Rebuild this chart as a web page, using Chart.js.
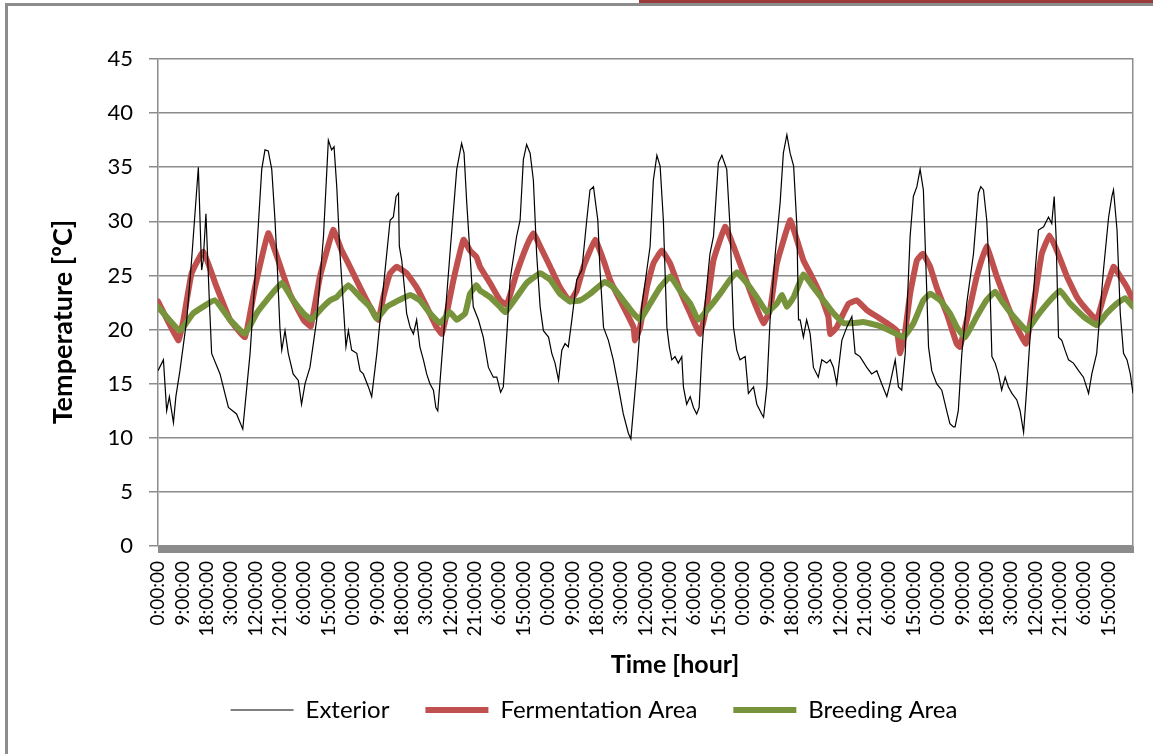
<!DOCTYPE html>
<html>
<head>
<meta charset="utf-8">
<script src="https://cdn.jsdelivr.net/npm/chart.js@4.4.0/dist/chart.umd.min.js"></script>
<style>
  html, body { margin: 0; padding: 0; background: #fff; width: 1153px; height: 754px; overflow: hidden; }
  #wrap { position: relative; width: 1153px; height: 754px; overflow: hidden; }
  #frame { position: absolute; left: 5px; top: 3px; right: -60px; bottom: -60px;
           border-left: 3px solid #8c8c8c; border-top: 3px solid #8c8c8c; }
  #tab { position: absolute; left: 639px; top: 0; width: 530px; height: 3px; background: #9a3b3b; }
  #chart { position: absolute; left: 0; top: 0; }
</style>
</head>
<body>
<div id="wrap">
  <div id="frame"></div>
  <div id="tab"></div>
  <canvas id="chart" width="1188" height="754"></canvas>
</div>
<script>
// Temperature log, time axis in hours from the start of the record
const X_TITLE = 'Time [hour]';
const Y_TITLE = 'Temperature [ºC]';
const SERIES_NAMES = ['Exterior', 'Fermentation Area', 'Breeding Area'];

const extHours = [0,2.0,3.2,4.2,5.7,6.6,8.1,10.6,12.4,14.9,16.1,16.7,17.7,18.9,19.8,22.9,26.0,29.0,31.3,34.0,
  36.4,38.3,39.5,40.7,42.0,43.2,44.1,45.0,45.7,46.9,48.1,49.9,51.8,53.0,54.3,56.1,58.6,61.1,62.9,64.1,
  65.0,66.0,67.2,68.4,69.4,70.3,71.5,73.4,74.6,75.8,77.7,78.9,80.8,82.6,85.7,86.9,87.9,88.8,89.1,90.0,
  91.2,91.8,93.1,94.3,95.5,96.7,98.0,99.2,100.4,101.7,102.6,103.3,105.4,107.8,110.3,112.1,113.0,114.0,115.2,116.4,
  118.3,120.1,122.0,123.8,125.1,126.5,127.5,128.8,130.0,132.4,133.7,134.9,136.1,137.4,138.6,139.8,141.1,142.3,144.2,145.4,
  146.6,147.9,149.1,150.3,151.5,152.8,154.6,156.5,158.3,159.5,160.8,161.4,162.4,163.2,164.5,166.3,168.1,170.0,171.8,173.7,
  174.6,176.8,178.6,180.5,181.7,182.9,184.2,185.4,186.6,187.9,188.8,189.7,190.9,192.1,193.4,194.0,195.2,196.5,197.7,198.9,
  199.8,200.8,202.0,203.8,205.1,206.9,208.2,210.0,211.2,212.5,213.7,214.9,216.8,218.0,219.9,221.1,222.9,223.6,224.8,226.0,
  227.9,229.7,230.9,232.2,233.4,234.7,235.9,236.5,237.1,238.3,239.5,240.8,242.0,243.8,245.1,246.9,248.2,249.4,250.6,252.5,
  254.3,256.2,257.4,259.2,261.7,263.5,265.4,267.2,269.1,270.3,272.2,273.4,274.6,275.9,277.7,278.9,280.2,281.4,282.6,283.8,
  284.5,285.7,287.5,289.4,291.2,292.4,293.7,294.3,295.5,296.8,298.6,301.1,302.9,303.8,304.8,306.0,307.2,307.9,309.1,310.3,
  311.5,312.8,314.0,315.3,317.1,318.3,319.6,320.8,322.0,323.9,325.1,327.0,328.8,330.0,330.9,331.6,332.5,333.7,334.9,336.2,
  338.0,339.9,341.7,343.6,344.8,346.6,349.1,351.0,352.2,352.8,354.1,355.3,356.5,357.8,359.0,360];
const extTemps = [16.2,17.2,12.5,13.8,11.4,13.8,16.2,20.9,26.4,35.0,25.5,26.4,30.7,23.0,17.8,15.9,12.8,12.2,10.8,17.8,
  27.0,34.8,36.6,36.5,34.8,30.1,25.5,20.2,18.1,19.9,17.8,15.9,15.3,13.1,15.0,16.5,20.9,28.6,37.5,36.6,
  36.9,33.2,27.0,22.4,18.4,19.9,18.1,17.8,16.2,15.9,14.7,13.8,17.8,22.4,30.1,30.4,32.3,32.6,27.7,26.4,
  23.3,21.5,20.2,19.6,20.9,18.4,17.2,15.9,15.0,14.4,12.8,12.5,19.3,27.0,34.8,37.2,36.3,31.7,27.0,22.1,
  20.9,19.3,16.5,15.6,15.6,14.2,14.7,19.6,24.6,28.6,30.1,35.7,37.1,36.3,33.8,27.0,22.1,19.9,19.3,17.8,
  16.9,15.3,18.1,18.7,18.4,20.9,24.6,25.5,30.1,32.9,33.2,32.0,30.1,25.5,20.2,19.0,17.2,14.7,12.2,10.4,
  9.9,16.2,22.1,25.5,27.7,33.8,36.1,35.1,30.1,20.2,18.4,17.2,17.5,16.9,17.5,14.7,13.1,13.8,12.8,12.2,
  12.8,17.8,22.4,27.0,28.6,35.4,36.1,34.8,29.5,20.2,18.1,17.2,17.5,14.1,14.7,13.1,12.2,11.9,14.7,20.9,
  27.0,31.7,36.3,38.0,36.3,35.1,29.5,20.9,20.9,19.3,20.9,19.6,16.5,15.6,17.2,16.9,17.2,16.5,15.0,19.0,
  20.2,21.2,17.8,17.5,16.5,15.9,16.2,15.0,13.8,15.0,17.2,14.7,14.4,17.8,28.6,32.3,33.2,34.8,32.9,23.9,
  18.4,16.2,15.0,14.4,12.5,11.3,11.0,11.0,12.5,17.8,22.4,27.0,32.6,33.2,32.9,30.1,23.9,17.5,16.9,15.9,
  14.4,15.6,14.7,14.1,13.5,12.5,10.5,14.7,19.3,25.5,29.2,29.5,30.4,29.8,32.3,28.6,19.3,19.0,18.1,17.2,
  16.9,16.2,15.6,14.1,15.9,17.8,25.5,30.4,32.3,32.9,29.2,21.5,17.8,17.2,15.9,14.1];

const fermHours = [0,7.5,9.4,12.4,16.7,21.7,26.6,32.1,35.8,40.7,44.4,48.7,53.7,56.4,59.8,64.7,67.8,69.7,74.6,78.3,
  81.4,83.2,85.7,88.1,91.8,95.5,99.2,102.9,104.8,106.6,109.1,112.8,115.2,117.6,118.9,122.6,126.3,128.8,132.4,136.1,
  138.6,141.1,144.8,148.4,152.1,154.6,157.1,161.4,164.5,166.9,169.4,173.1,175.6,176.1,178.0,180.5,182.9,186.0,189.1,192.8,
  196.5,200.1,202.6,205.1,209.4,212.5,216.2,219.9,223.6,226.0,228.5,233.4,235.9,238.3,240.8,244.5,247.5,248.2,250.6,253.1,
  255.0,258.0,261.7,265.4,269.1,272.8,274.0,275.9,277.7,280.2,282.4,285.1,287.5,291.2,294.9,296.1,299.8,302.3,305.9,309.7,
  313.4,317.1,320.5,323.9,326.3,329.2,331.9,335.6,339.3,343.0,346.6,349.1,352.8,355.3,357.8,360];
const fermTemps = [22.6,19.0,20.9,25.2,27.2,23.9,20.9,19.3,23.9,28.9,26.4,23.3,20.9,20.3,24.9,29.2,27.3,26.4,23.9,22.1,
  20.9,23.0,25.2,25.8,25.2,23.9,22.1,20.2,19.6,21.5,24.6,28.3,27.3,26.7,25.8,24.3,22.7,22.3,25.2,27.7,
  28.9,27.7,25.8,23.9,22.6,23.6,25.8,28.3,26.4,24.6,23.3,21.5,20.2,19.0,20.2,23.9,26.1,27.3,26.1,23.6,
  21.5,19.6,22.1,26.4,29.5,27.7,25.2,22.7,20.6,21.8,26.1,30.1,28.3,26.4,25.2,23.3,21.2,19.6,20.2,21.5,
  22.4,22.7,21.8,21.2,20.6,19.9,17.8,19.9,23.3,26.4,27.0,25.8,23.9,21.5,18.7,18.4,22.1,24.9,27.7,24.9,
  22.4,20.2,18.7,23.3,27.0,28.7,27.3,24.9,23.0,21.8,20.9,23.0,25.8,24.9,23.9,22.7];

const breedHours = [0,8.1,13.0,21.0,26.6,32.1,36.4,40.1,45.7,49.9,53.7,56.7,59.8,63.5,66.0,70.3,74.6,78.3,80.8,84.5,
  88.1,93.1,96.7,100.4,104.1,107.8,110.3,113.4,115.2,117.6,118.9,122.6,126.3,128.2,132.4,136.1,141.1,144.8,148.4,152.1,
  155.8,159.5,165.0,168.1,171.8,175.5,178.0,181.7,185.4,189.1,192.8,196.5,199.5,203.8,207.5,211.2,213.7,217.4,221.1,224.8,
  228.5,230.4,232.2,234.7,238.3,242.0,245.7,249.4,253.1,256.8,260.5,265.4,270.3,275.3,279.0,282.6,285.1,288.8,292.4,295.0,
  298.0,302.3,305.9,309.1,312.2,315.9,320.8,324.5,329.4,333.1,336.8,341.7,346.6,350.3,354.0,357.1,360];
const breedTemps = [22.1,19.9,21.5,22.7,20.9,19.6,21.5,22.7,24.3,22.7,21.5,20.9,21.8,22.7,23.0,24.1,23.0,22.1,21.0,22.1,
  22.6,23.2,22.7,21.5,20.6,21.6,20.9,21.5,23.3,24.1,23.6,23.0,22.1,21.6,23.0,24.3,25.2,24.6,23.3,22.6,
  22.7,23.3,24.4,23.9,22.7,21.5,20.9,22.4,23.9,24.9,23.6,22.4,20.9,22.1,23.3,24.6,25.3,24.3,23.0,21.6,
  22.4,23.2,22.1,23.0,25.1,23.9,22.7,21.5,20.6,20.6,20.7,20.4,19.9,19.3,20.6,22.7,23.3,22.7,21.5,20.2,
  19.3,21.2,22.7,23.5,22.4,21.2,19.9,21.2,22.7,23.6,22.4,21.2,20.4,21.5,22.4,22.9,22.1];

const X_MIN = 0, X_MAX = 360, X_STEP = 9;
const Y_MIN = 0, Y_MAX = 45, Y_STEP = 5;

const toPoints = (xs, ys) => xs.map((x, i) => ({ x, y: ys[i] }));
const hourLabel = v => (v % 24) + ':00:00';

const GRID = '#8c8c8c';
const FONT = 'Lato, "Noto Sans", sans-serif';
Chart.defaults.font.family = FONT;
Chart.defaults.color = '#000';

// Axis titles, thick base bar under the zero line
const chartDecor = {
  id: 'chartDecor',
  afterDraw(chart) {
    const { ctx, chartArea } = chart;
    ctx.save();
    ctx.fillStyle = GRID;
    ctx.fillRect(chartArea.left, chartArea.bottom, chartArea.right - chartArea.left + 1, 7);
    ctx.fillStyle = '#000';
    ctx.textAlign = 'center';
    ctx.textBaseline = 'middle';
    ctx.font = 'bold 25px ' + FONT;
    ctx.fillText(X_TITLE, 675, 665);
    ctx.font = 'bold 27px ' + FONT;
    ctx.translate(63, 322);
    ctx.rotate(-Math.PI / 2);
    ctx.fillText(Y_TITLE, 0, 0);
    ctx.restore();
  }
};

new Chart(document.getElementById('chart'), {
  type: 'line',
  data: {
    datasets: [
      { label: SERIES_NAMES[0], data: toPoints(extHours, extTemps), borderColor: '#000000', backgroundColor: '#000000',
        borderWidth: 1.2, pointRadius: 0, tension: 0, order: 0, borderCapStyle: 'butt' },
      { label: SERIES_NAMES[1], data: toPoints(fermHours, fermTemps), borderColor: '#c0504d', backgroundColor: '#c0504d',
        borderWidth: 6, pointRadius: 0, tension: 0.1, order: 2, borderCapStyle: 'round', borderJoinStyle: 'round' },
      { label: SERIES_NAMES[2], data: toPoints(breedHours, breedTemps), borderColor: '#77933c', backgroundColor: '#77933c',
        borderWidth: 6, pointRadius: 0, tension: 0.1, order: 1, borderCapStyle: 'round', borderJoinStyle: 'round' }
    ]
  },
  options: {
    responsive: false,
    devicePixelRatio: 1,
    animation: false,
    layout: { padding: { top: 59, bottom: 22, left: 0, right: 0 } },
    plugins: {
      tooltip: { enabled: false },
      legend: {
        position: 'bottom',
        labels: {
          usePointStyle: true,
          pointStyle: 'line',
          pointStyleWidth: 63,
          padding: 36,
          color: '#000',
          font: { size: 24 },
          sort: (a, b) => a.datasetIndex - b.datasetIndex
        }
      }
    },
    scales: {
      x: {
        type: 'linear', min: X_MIN, max: X_MAX,
        grid: { drawOnChartArea: false, drawTicks: false },
        border: { display: false },
        ticks: { stepSize: X_STEP, autoSkip: false, minRotation: 90, maxRotation: 90, padding: 15,
                 font: { size: 19 }, color: '#000', callback: hourLabel },
        afterBuildTicks(s) { s.ticks = s.ticks.filter(t => t.value < X_MAX); },
        afterFit(s) { s.height = 116; }
      },
      y: {
        min: Y_MIN, max: Y_MAX,
        ticks: { stepSize: Y_STEP, padding: 16, font: { size: 22 }, color: '#000' },
        grid: { color: GRID, lineWidth: 1.5, tickLength: 9, tickColor: GRID },
        border: { color: GRID, width: 1.5 },
        afterFit(s) { s.width = 158; }
      },
      yEdge: {
        position: 'right', min: Y_MIN, max: Y_MAX,
        grid: { drawOnChartArea: false, drawTicks: false },
        ticks: { display: false },
        border: { display: true, color: GRID, width: 1.5 },
        afterFit(s) { s.width = 55; }
      }
    }
  },
  plugins: [chartDecor]
});
</script>
</body>
</html>
